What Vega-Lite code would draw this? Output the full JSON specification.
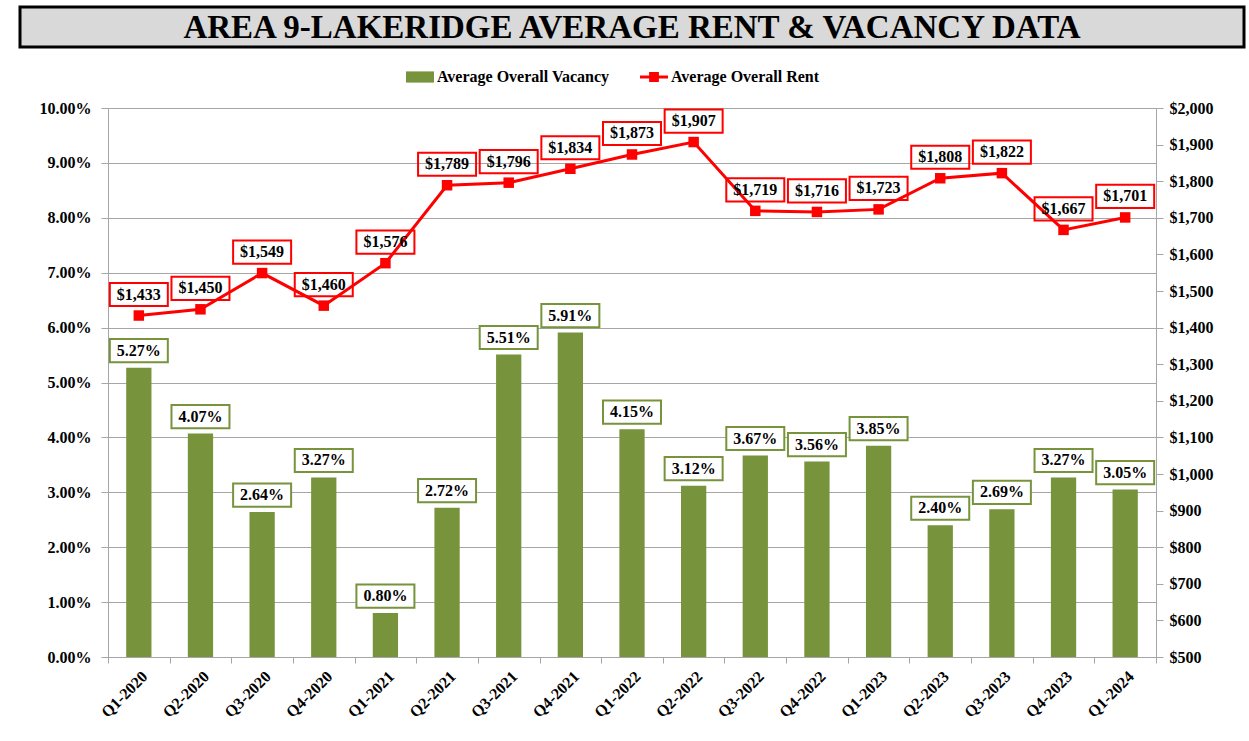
{
  "$schema": "https://vega.github.io/schema/vega-lite/v6.json",
  "background": "white",
  "padding": {"left": 10, "top": 5, "right": 5, "bottom": 0},
  "spacing": 61,
  "center": true,
  "bounds": "flush",
  "resolve": {"legend": {"color": "independent"}},
  "vconcat": [
    {
      "width": 1224,
      "height": 40,
      "data": {"values": [{"t": "AREA 9-LAKERIDGE AVERAGE RENT & VACANCY DATA"}]},
      "view": {"fill": "#d9d9d9", "stroke": "black", "strokeWidth": 3},
      "mark": {"type": "text", "font": "Liberation Serif", "fontWeight": "bold", "fontSize": 33, "color": "black", "dy": 1},
      "encoding": {"text": {"field": "t", "type": "nominal"}}
    },
    {
      "width": 1048,
      "height": 549,
      "view": {"stroke": null},
      "data": {"values": [
        {"q": "Q1-2020", "vac": 0.0527, "rent": 1433},
        {"q": "Q2-2020", "vac": 0.0407, "rent": 1450},
        {"q": "Q3-2020", "vac": 0.0264, "rent": 1549},
        {"q": "Q4-2020", "vac": 0.0327, "rent": 1460},
        {"q": "Q1-2021", "vac": 0.0080, "rent": 1576},
        {"q": "Q2-2021", "vac": 0.0272, "rent": 1789},
        {"q": "Q3-2021", "vac": 0.0551, "rent": 1796},
        {"q": "Q4-2021", "vac": 0.0591, "rent": 1834},
        {"q": "Q1-2022", "vac": 0.0415, "rent": 1873},
        {"q": "Q2-2022", "vac": 0.0312, "rent": 1907},
        {"q": "Q3-2022", "vac": 0.0367, "rent": 1719},
        {"q": "Q4-2022", "vac": 0.0356, "rent": 1716},
        {"q": "Q1-2023", "vac": 0.0385, "rent": 1723},
        {"q": "Q2-2023", "vac": 0.0240, "rent": 1808},
        {"q": "Q3-2023", "vac": 0.0269, "rent": 1822},
        {"q": "Q4-2023", "vac": 0.0327, "rent": 1667},
        {"q": "Q1-2024", "vac": 0.0305, "rent": 1701}
      ]},
      "encoding": {
        "x": {
          "field": "q", "type": "ordinal", "sort": null,
          "scale": {"paddingInner": 0, "paddingOuter": 0},
          "axis": {
            "title": null, "labelAngle": -45, "tickBand": "extent",
            "labelFont": "Liberation Serif", "labelFontWeight": "bold", "labelFontSize": 16,
            "labelColor": "black", "domainColor": "#a6a6a6", "tickColor": "#a6a6a6", "tickSize": 6,
            "labelPadding": 5, "grid": false
          }
        }
      },
      "layer": [
        {
          "encoding": {
            "y": {
              "field": "vac", "type": "quantitative",
              "scale": {"domain": [0, 0.1], "nice": false},
              "axis": {
                "title": null, "orient": "left", "format": ".2%",
                "values": [0, 0.01, 0.02, 0.03, 0.04, 0.05, 0.06, 0.07, 0.08, 0.09, 0.1],
                "labelFont": "Liberation Serif", "labelFontWeight": "bold", "labelFontSize": 16,
                "labelColor": "black", "domainColor": "#a6a6a6", "tickColor": "#a6a6a6",
                "tickSize": 7, "labelPadding": 10, "minExtent": 98,
                "grid": true, "gridColor": "#a6a6a6", "gridWidth": 1
              }
            }
          },
          "layer": [
            {
              "mark": {"type": "bar", "width": {"band": 0.41}},
              "encoding": {
                "color": {
                  "datum": "Average Overall Vacancy",
                  "scale": {"domain": ["Average Overall Vacancy", "Average Overall Rent"], "range": ["#77933C", "#FF0000"]},
                  "legend": {
                    "title": null, "orient": "none", "legendX": 298, "legendY": -45,
                    "direction": "horizontal", "symbolSize": 784, "labelLimit": 300,
                    "labelFont": "Liberation Serif", "labelFontWeight": "bold", "labelFontSize": 16,
                    "labelColor": "black", "columnPadding": 30, "labelOffset": 3,
                    "encode": {
                      "symbols": {
                        "update": {
                          "shape": {"signal": "datum.value === 'Average Overall Vacancy' ? 'M-1,-0.4H1V0.4H-1Z' : 'M-1,-0.1H-0.35V-0.35H0.35V-0.1H1V0.1H0.35V0.35H-0.35V0.1H-1Z'"},
                          "strokeWidth": {"value": 0}
                        }
                      }
                    }
                  }
                }
              }
            },
            {
              "mark": {"type": "point", "shape": "M-1,-0.4H1V0.4H-1Z", "size": 3364, "filled": true, "fill": "white", "stroke": "#77933C", "strokeWidth": 2, "opacity": 1, "yOffset": -17},
              "encoding": {}
            },
            {
              "mark": {"type": "text", "font": "Liberation Serif", "fontWeight": "bold", "fontSize": 16, "color": "black", "yOffset": -17},
              "encoding": {"text": {"field": "vac", "type": "quantitative", "format": ".2%"}}
            }
          ]
        },
        {
          "encoding": {
            "y": {
              "field": "rent", "type": "quantitative",
              "scale": {"domain": [500, 2000], "nice": false},
              "axis": {
                "title": null, "orient": "right", "format": "$,.0f",
                "values": [500, 600, 700, 800, 900, 1000, 1100, 1200, 1300, 1400, 1500, 1600, 1700, 1800, 1900, 2000],
                "labelFont": "Liberation Serif", "labelFontWeight": "bold", "labelFontSize": 16,
                "labelColor": "black", "domainColor": "#a6a6a6", "tickColor": "#a6a6a6",
                "tickSize": 7, "labelPadding": 6, "grid": false
              }
            }
          },
          "layer": [
            {
              "mark": {"type": "line", "strokeWidth": 3},
              "encoding": {"color": {"datum": "Average Overall Rent"}}
            },
            {
              "mark": {"type": "point", "shape": "square", "filled": true, "size": 110, "opacity": 1},
              "encoding": {"color": {"datum": "Average Overall Rent"}}
            },
            {
              "mark": {"type": "point", "shape": "M-1,-0.4H1V0.4H-1Z", "size": 3364, "filled": false, "stroke": "#FF0000", "strokeWidth": 2, "opacity": 1, "yOffset": -21},
              "encoding": {}
            },
            {
              "mark": {"type": "text", "font": "Liberation Serif", "fontWeight": "bold", "fontSize": 16, "color": "black", "yOffset": -21},
              "encoding": {"text": {"field": "rent", "type": "quantitative", "format": "$,.0f"}}
            }
          ]
        }
      ],
      "resolve": {"scale": {"y": "independent"}}
    }
  ]
}
